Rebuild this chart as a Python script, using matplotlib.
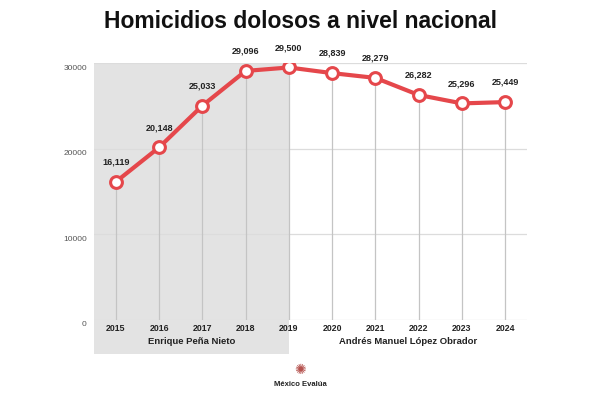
import matplotlib
matplotlib.use("Agg")
import matplotlib.pyplot as plt

# Homicidios dolosos a nivel nacional (México Evalúa)
years = [2015, 2016, 2017, 2018, 2019, 2020, 2021, 2022, 2023, 2024]
homicidios = [16119, 20148, 25033, 29096, 29500, 28839, 28279, 26282, 25296, 25449]
yticks = [0, 10000, 20000, 30000]
sexenios = ["Enrique Peña Nieto", "Andrés Manuel López Obrador"]
sexenio_span = [(2014.5, 2019), (2019, 2024.5)]

red = "#e5474b"
plt.rcParams["font.family"] = ["Liberation Sans", "DejaVu Sans"]

fig = plt.figure(figsize=(6, 4), dpi=100)
ax = fig.add_axes([0.157, 0.201, 0.721, 0.641])
ax.set_xlim(2014.5, 2024.5)
ax.set_ylim(0, 30000)

# sombreado del sexenio de EPN (se extiende por debajo del eje)
ax.axvspan(sexenio_span[0][0], sexenio_span[0][1], ymin=-0.135, ymax=1,
           color="#e3e3e3", zorder=0, clip_on=False, lw=0)

for t in yticks:
    ax.axhline(t, color="#dcdcdc", lw=0.9, zorder=1)
    ax.text(2014.5 - 0.17, t - 600, str(t), ha="right", va="center",
            fontsize=6, color="#555555")

# lineas verticales desde cada punto
ax.vlines(years, 0, homicidios, color="#c4c4c4", lw=0.9, zorder=1)

ax.plot(years, homicidios, color=red, lw=3, zorder=3,
        marker="o", markersize=8.5, markerfacecolor="white",
        markeredgecolor=red, markeredgewidth=2.2, solid_capstyle="round")

for x, v in zip(years, homicidios):
    ax.annotate(f"{v:,}", (x, v), xytext=(0, 11), textcoords="offset points",
                ha="center", va="bottom", fontsize=6.5, fontweight="bold",
                color="#222222")

for x in years:
    ax.text(x, -550, str(x), ha="center", va="top", fontsize=6.3,
            fontweight="bold", color="#222222")

for name, (a, b) in zip(sexenios, sexenio_span):
    ax.text((a + b) / 2, -2550, name, ha="center",
            va="center", fontsize=6.8, fontweight="bold", color="#222222")

for s in ax.spines.values():
    s.set_visible(False)
ax.set_xticks([])
ax.set_yticks([])

fig.text(0.5, 0.945, "Homicidios dolosos a nivel nacional", ha="center",
         va="center", fontsize=16.5, fontweight="bold", color="#111111")

fig.text(0.5, 0.075, "✺", ha="center", va="center", fontsize=10,
         color="#b5524e", family="DejaVu Sans")
fig.text(0.5, 0.038, "México Evalúa", ha="center", va="center",
         fontsize=5.5, fontweight="bold", color="#222222")

fig.savefig("out.png", dpi=100, facecolor="white")
